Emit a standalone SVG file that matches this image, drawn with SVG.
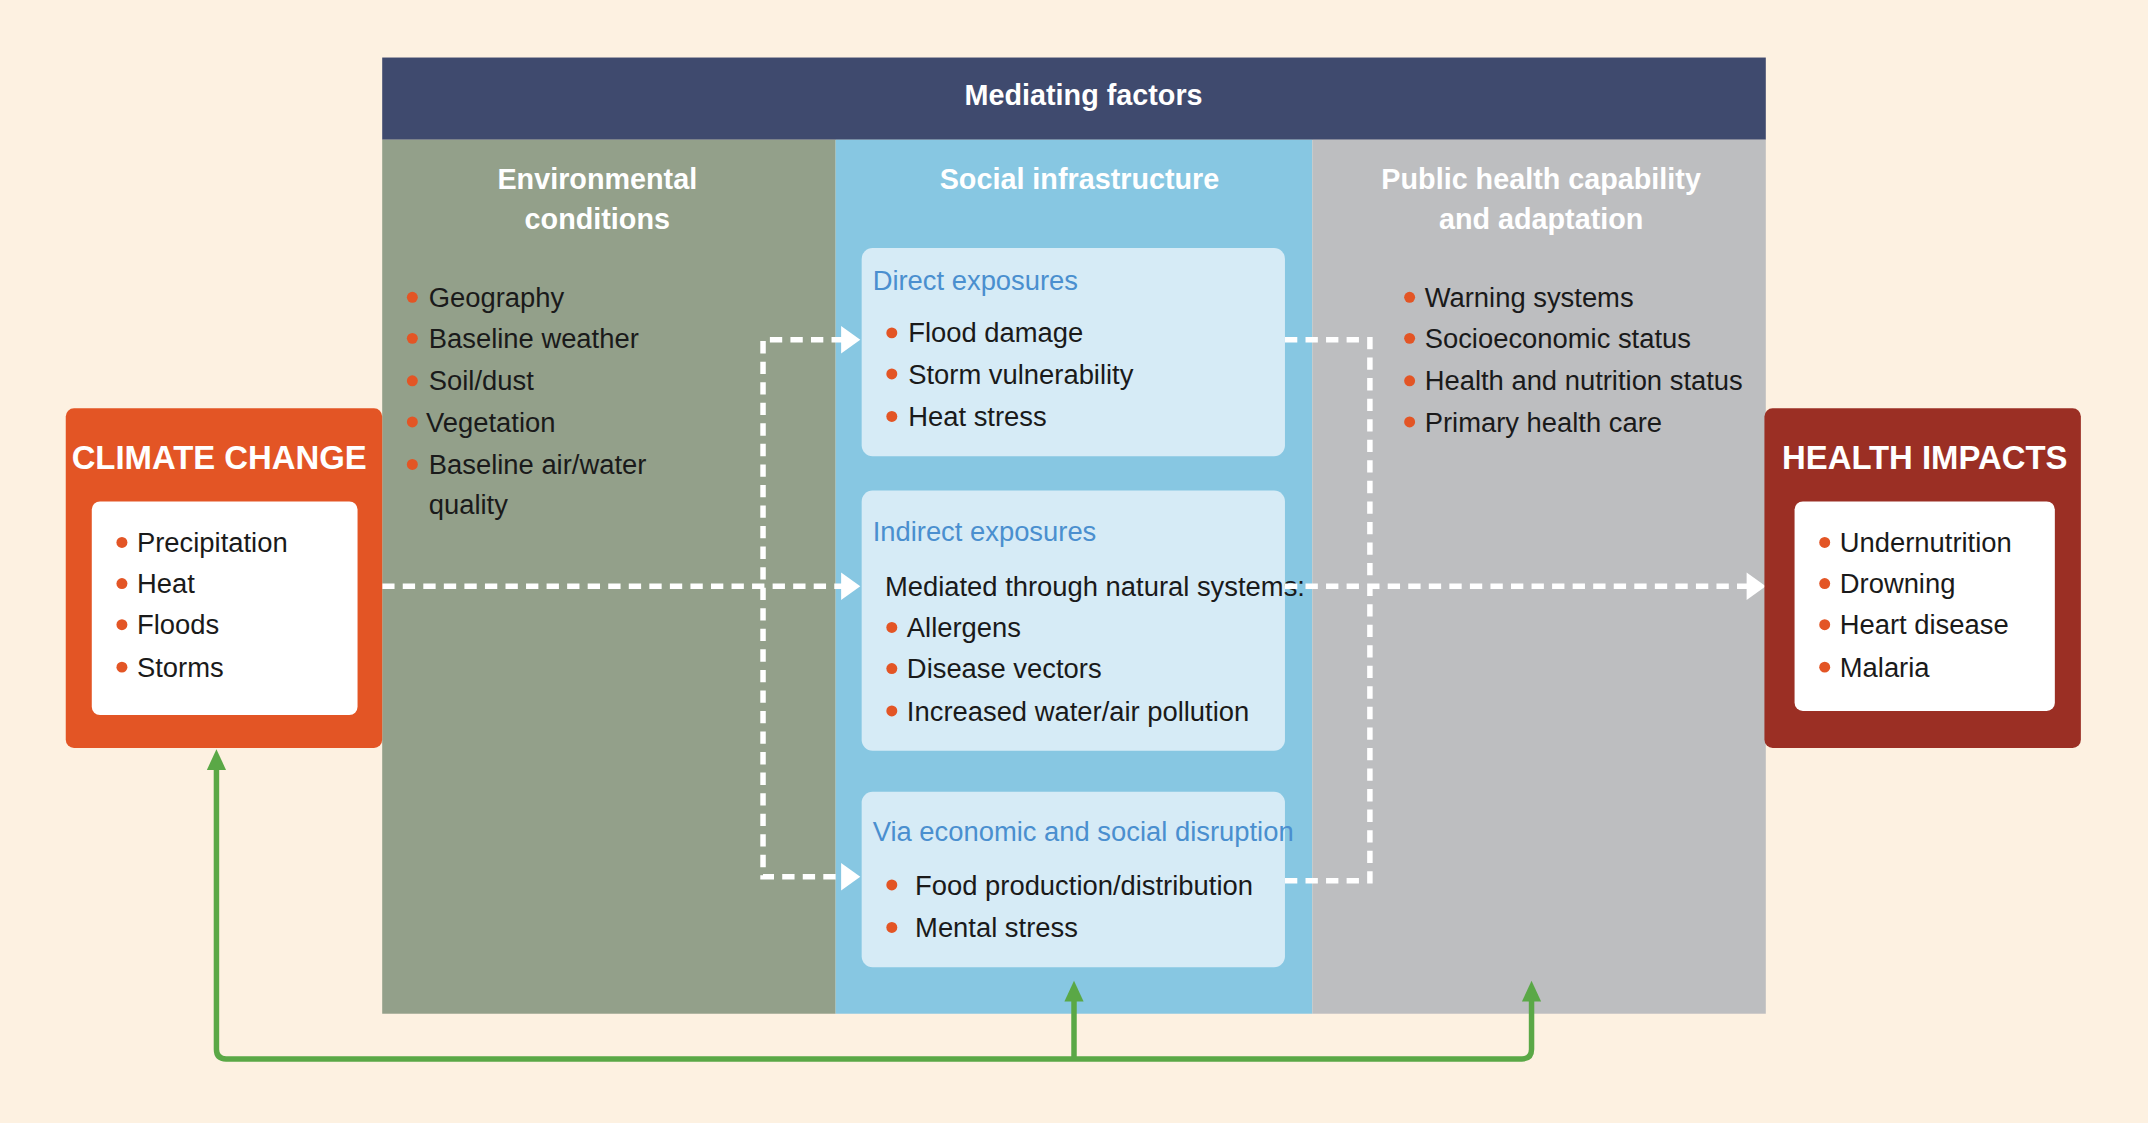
<svg xmlns="http://www.w3.org/2000/svg" width="2148" height="1123" viewBox="0 0 2148 1123">
<style>
text{font-family:"Liberation Sans",Arial,sans-serif}
.hd{fill:#fff;font-weight:bold;font-size:21px;text-anchor:middle}
.it{fill:#1a1a1a;font-size:20px}
.bl{fill:#e35525}
.st{fill:#4a8fcf;font-size:20px}
.ti{fill:#fff;font-weight:bold;font-size:24px;text-anchor:middle}
.dash{fill:none;stroke:#fff;stroke-width:4;stroke-dasharray:9 6}
.grn{fill:none;stroke:#5aa846;stroke-width:4;stroke-linejoin:round}
</style>
<rect width="2148" height="1123" fill="#fdf1e1"/>
<g transform="scale(1.369898)">
<g id="mediating">
<rect x="279" y="42" width="1010" height="60" fill="#3f4a6e"/>
<text class="hd" x="791" y="77">Mediating factors</text>
</g>
<g id="environmental">
<rect x="279" y="102" width="331" height="638" fill="#93a08a"/>
<text class="hd" x="436" y="138">Environmental</text>
<text class="hd" x="436" y="167">conditions</text>
<g class="bl"><circle cx="301" cy="217" r="4"/><circle cx="301" cy="247" r="4"/><circle cx="301" cy="278" r="4"/><circle cx="301" cy="308" r="4"/><circle cx="301" cy="339" r="4"/></g>
<text class="it" x="313" y="224">Geography</text>
<text class="it" x="313" y="254">Baseline weather</text>
<text class="it" x="313" y="285">Soil/dust</text>
<text class="it" x="311" y="315">Vegetation</text>
<text class="it" x="313" y="346">Baseline air/water</text>
<text class="it" x="313" y="375">quality</text>
</g>
<g id="social">
<rect x="610" y="102" width="348" height="638" fill="#87c7e2"/>
<text class="hd" x="788" y="138">Social infrastructure</text>
</g>
<g id="public">
<rect x="958" y="102" width="331" height="638" fill="#bdbec0"/>
<text class="hd" x="1125" y="138">Public health capability</text>
<text class="hd" x="1125" y="167">and adaptation</text>
<g class="bl"><circle cx="1029" cy="217" r="4"/><circle cx="1029" cy="247" r="4"/><circle cx="1029" cy="278" r="4"/><circle cx="1029" cy="308" r="4"/></g>
<text class="it" x="1040" y="224">Warning systems</text>
<text class="it" x="1040" y="254">Socioeconomic status</text>
<text class="it" x="1040" y="285">Health and nutrition status</text>
<text class="it" x="1040" y="315">Primary health care</text>
</g>
<g id="direct">
<rect x="629" y="181" width="309" height="152" rx="8" fill="#d6ebf6"/>
<text class="st" x="637" y="212">Direct exposures</text>
<g class="bl"><circle cx="651" cy="243" r="4"/><circle cx="651" cy="273" r="4"/><circle cx="651" cy="304" r="4"/></g>
<text class="it" x="663" y="250">Flood damage</text>
<text class="it" x="663" y="280">Storm vulnerability</text>
<text class="it" x="663" y="311">Heat stress</text>
</g>
<g id="indirect">
<rect x="629" y="358" width="309" height="190" rx="8" fill="#d6ebf6"/>
<text class="st" x="637" y="395">Indirect exposures</text>
<text class="it" x="646" y="435" font-size="18.5">Mediated through natural systems:</text>
<g class="bl"><circle cx="651" cy="458" r="4"/><circle cx="651" cy="488" r="4"/><circle cx="651" cy="519" r="4"/></g>
<text class="it" x="662" y="465">Allergens</text>
<text class="it" x="662" y="495">Disease vectors</text>
<text class="it" x="662" y="526">Increased water/air pollution</text>
</g>
<g id="via">
<rect x="629" y="578" width="309" height="128" rx="8" fill="#d6ebf6"/>
<text class="st" x="637" y="614" font-size="18.5">Via economic and social disruption</text>
<g class="bl"><circle cx="651" cy="646" r="4"/><circle cx="651" cy="677" r="4"/></g>
<text class="it" x="668" y="653">Food production/distribution</text>
<text class="it" x="668" y="684">Mental stress</text>
</g>
<g id="connectors">
<path class="dash" d="M279 428H616M938 428H1276M616 248H557V640H616M938 248H1000V643H938"/>
<g fill="#fff">
<polygon points="614,418 628,428 614,438"/>
<polygon points="614,238 628,248 614,258"/>
<polygon points="614,630 628,640 614,650"/>
<polygon points="1275,418 1289,428 1275,438"/>
</g>
<path class="grn" d="M158 560V766Q158 773 165 773H1111Q1118 773 1118 766V730M784 773V730"/>
<g fill="#5aa846">
<polygon points="151,562 158,547 165,562"/>
<polygon points="777,731 784,716 791,731"/>
<polygon points="1111,731 1118,716 1125,731"/>
</g>
</g>
<g id="climate">
<rect x="48" y="298" width="231" height="248" rx="6" fill="#e35525"/>
<text class="ti" x="160" y="342">CLIMATE CHANGE</text>
<rect x="67" y="366" width="194" height="156" rx="6" fill="#fff"/>
<g class="bl"><circle cx="89" cy="396" r="4"/><circle cx="89" cy="426" r="4"/><circle cx="89" cy="456" r="4"/><circle cx="89" cy="487" r="4"/></g>
<text class="it" x="100" y="403">Precipitation</text>
<text class="it" x="100" y="433">Heat</text>
<text class="it" x="100" y="463">Floods</text>
<text class="it" x="100" y="494">Storms</text>
</g>
<g id="health">
<rect x="1288" y="298" width="231" height="248" rx="6" fill="#9b2f24"/>
<text class="ti" x="1405" y="342">HEALTH IMPACTS</text>
<rect x="1310" y="366" width="190" height="153" rx="6" fill="#fff"/>
<g class="bl"><circle cx="1332" cy="396" r="4"/><circle cx="1332" cy="426" r="4"/><circle cx="1332" cy="456" r="4"/><circle cx="1332" cy="487" r="4"/></g>
<text class="it" x="1343" y="403">Undernutrition</text>
<text class="it" x="1343" y="433">Drowning</text>
<text class="it" x="1343" y="463">Heart disease</text>
<text class="it" x="1343" y="494">Malaria</text>
</g>
</g>
</svg>
